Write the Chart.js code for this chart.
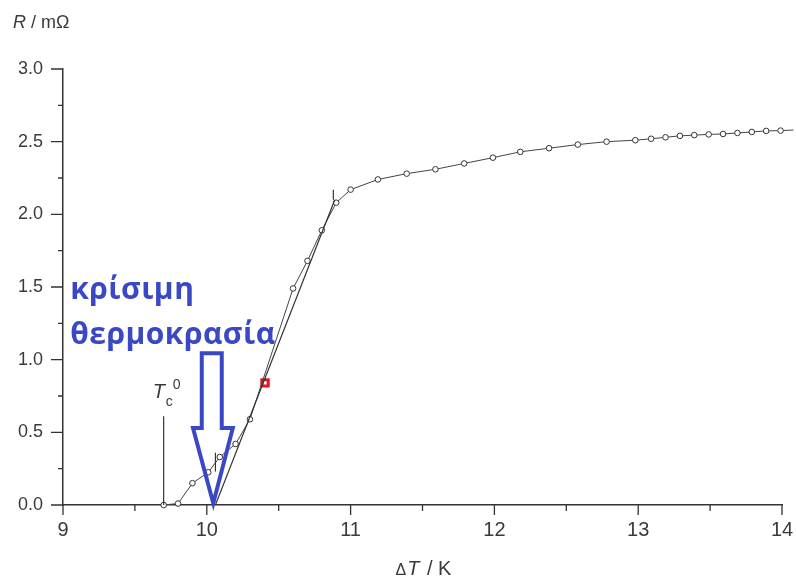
<!DOCTYPE html>
<html lang="el">
<head>
  <meta charset="UTF-8">
  <title>R / mΩ vs ΔT / K</title>
  <style>
    body {
      margin: 0;
      background: #fff;
    }
    .chart-box {
      width: 796px;
      height: 578px;
    }
  </style>
</head>
<body>
  <div class="chart-box">
    <canvas id="resChart" width="796" height="578"></canvas>
  </div>

  <script src="https://cdn.jsdelivr.net/npm/chart.js"></script>
  <script>
    // measured points: ΔT in K, R in mΩ
    const tempK = [9.70, 9.80, 9.90, 10.01, 10.09, 10.20, 10.30, 10.60, 10.70, 10.80, 10.90,
      11.00, 11.19, 11.39, 11.59, 11.79, 11.99, 12.18, 12.38, 12.58, 12.78, 12.98,
      13.09, 13.19, 13.29, 13.39, 13.49, 13.59, 13.69, 13.79, 13.89, 13.99, 14.08];
    const resistance = [0.00, 0.01, 0.15, 0.225, 0.33, 0.42, 0.59, 1.49, 1.68, 1.89, 2.08,
      2.17, 2.24, 2.28, 2.31, 2.35, 2.39, 2.43, 2.455, 2.48, 2.50, 2.51,
      2.52, 2.53, 2.54, 2.545, 2.55, 2.553, 2.56, 2.567, 2.574, 2.576, 2.58];

    // straight line drawn through the transition
    const fitTempK = [10.06, 10.89];
    const fitRes = [0.0, 2.10];

    // Tc0 marker
    const tcTempK = [9.70, 9.70];
    const tcRes = [0.0, 0.61];

    // small vertical marks at both ends of the transition
    const lowMarkTempK = [10.06, 10.06];
    const lowMarkRes = [0.23, 0.36];
    const highMarkTempK = [10.88, 10.88];
    const highMarkRes = [2.10, 2.17];

    // red highlighted point
    const redTempK = [10.405];
    const redRes = [0.84];

    // axis ticks
    const xTicks = [9, 10, 11, 12, 13, 14];
    const xMinorTicks = [9.5, 10.5, 11.5, 12.5, 13.5];
    const yTicks = [0, 0.5, 1.0, 1.5, 2.0, 2.5, 3.0];
    const yMinorTicks = [0.25, 0.75, 1.25, 1.75, 2.25, 2.75];

    // annotation text
    const noteLines = ['κρίσιμη', 'θερμοκρασία'];

    const INK = '#333';
    const LABEL = '#3a3a3a';
    const BLUE = '#3b48c6';
    const FONT = "'Liberation Sans', Arial, sans-serif";

    function toXY(xs, ys) {
      return xs.map((x, i) => ({ x: x, y: ys[i] }));
    }

    // hand-drawn tick marks (major + minor), outward like the original
    const tickMarks = {
      id: 'tickMarks',
      afterDraw(chart) {
        const c = chart.ctx, xs = chart.scales.x, ys = chart.scales.y;
        c.save();
        c.strokeStyle = INK;
        c.lineWidth = 1.3;
        c.beginPath();
        xTicks.forEach(v => { const p = xs.getPixelForValue(v); c.moveTo(p, ys.bottom); c.lineTo(p, ys.bottom + 10); });
        xMinorTicks.forEach(v => { const p = xs.getPixelForValue(v); c.moveTo(p, ys.bottom); c.lineTo(p, ys.bottom + 6); });
        yTicks.forEach(v => { const p = ys.getPixelForValue(v); c.moveTo(xs.left, p); c.lineTo(xs.left - 12, p); });
        yMinorTicks.forEach(v => { const p = ys.getPixelForValue(v); c.moveTo(xs.left, p); c.lineTo(xs.left - 5, p); });
        c.stroke();
        c.restore();
      }
    };

    // axis titles with mixed italic / regular pieces
    function drawPieces(c, pieces, x, y) {
      pieces.forEach(p => {
        c.font = p.font;
        c.fillText(p.text, x + (p.dx || 0), y + (p.dy || 0));
        x += c.measureText(p.text).width + (p.dx || 0);
      });
    }
    function piecesWidth(c, pieces) {
      let w = 0;
      pieces.forEach(p => { c.font = p.font; w += c.measureText(p.text).width + (p.dx || 0); });
      return w;
    }

    const axisTitles = {
      id: 'axisTitles',
      afterDraw(chart) {
        const c = chart.ctx, area = chart.chartArea;
        c.save();
        c.fillStyle = LABEL;
        c.textBaseline = 'alphabetic';
        c.textAlign = 'left';

        const yTitle = [
          { text: 'R', font: 'italic 18px ' + FONT },
          { text: ' / mΩ', font: '18px ' + FONT }
        ];
        drawPieces(c, yTitle, 13, 28);

        const xTitle = [
          { text: 'Δ', font: '16px ' + FONT },
          { text: 'T', font: 'italic 20px ' + FONT, dx: 1 },
          { text: ' / K', font: '20px ' + FONT, dx: 2 }
        ];
        const w = piecesWidth(c, xTitle);
        drawPieces(c, xTitle, (area.left + area.right) / 2 - w / 2 + 1, 575);

        // Tc0 label next to its marker line
        const tx = chart.scales.x.getPixelForValue(tcTempK[0]);
        const ty = chart.scales.y.getPixelForValue(tcRes[1]);
        c.font = 'italic 20px ' + FONT;
        c.fillText('T', tx - 11, ty - 18);
        c.font = '14px ' + FONT;
        c.fillText('c', tx + 2, ty - 10);
        c.fillText('0', tx + 9, ty - 27);
        c.restore();
      }
    };

    // blue hollow arrow and Greek note, positioned in data units
    const arrowShape = { top: 1.044, neck: 0.53, tip: 0.012, shaftL: 9.965, shaftR: 10.104, headL: 9.904, headR: 10.181, tipX: 10.045 };
    const noteAnchor = { x: 9.05, y1: 1.42, y2: 1.11 };

    const annotation = {
      id: 'annotation',
      afterDatasetsDraw(chart) {
        const c = chart.ctx, xs = chart.scales.x, ys = chart.scales.y;
        const X = v => xs.getPixelForValue(v), Y = v => ys.getPixelForValue(v);
        const a = arrowShape;
        c.save();
        c.strokeStyle = BLUE;
        c.lineWidth = 4;
        c.lineJoin = 'miter';
        c.beginPath();
        c.moveTo(X(a.shaftL), Y(a.top));
        c.lineTo(X(a.shaftR), Y(a.top));
        c.lineTo(X(a.shaftR), Y(a.neck));
        c.lineTo(X(a.headR), Y(a.neck));
        c.lineTo(X(a.tipX), Y(a.tip));
        c.lineTo(X(a.headL), Y(a.neck));
        c.lineTo(X(a.shaftL), Y(a.neck));
        c.closePath();
        c.stroke();

        c.fillStyle = BLUE;
        c.font = "bold 30px 'Open Sans', 'Noto Sans', sans-serif";
        c.letterSpacing = '0.5px';
        c.textBaseline = 'alphabetic';
        c.fillText(noteLines[0], X(noteAnchor.x), Y(noteAnchor.y1));
        c.fillText(noteLines[1], X(noteAnchor.x), Y(noteAnchor.y2));
        c.restore();
      }
    };

    const thinLine = (data) => ({
      data: data,
      showLine: true,
      borderColor: INK,
      borderWidth: 1.2,
      pointRadius: 0,
      fill: false,
      tension: 0
    });

    new Chart(document.getElementById('resChart'), {
      type: 'scatter',
      data: {
        datasets: [
          thinLine(toXY(fitTempK, fitRes)),
          thinLine(toXY(tcTempK, tcRes)),
          thinLine(toXY(lowMarkTempK, lowMarkRes)),
          thinLine(toXY(highMarkTempK, highMarkRes)),
          {
            label: 'R',
            data: toXY(tempK, resistance),
            showLine: true,
            borderColor: '#444',
            borderWidth: 1,
            pointRadius: 2.8,
            pointBorderWidth: 1,
            pointBorderColor: '#333',
            pointBackgroundColor: '#fff',
            clip: false
          },
          {
            data: toXY(redTempK, redRes),
            pointStyle: 'rect',
            pointRadius: 4.5,
            pointBorderWidth: 3,
            pointBorderColor: '#e8141c',
            pointBackgroundColor: '#fff'
          }
        ]
      },
      options: {
        responsive: false,
        animation: false,
        layout: { padding: { top: 69, right: 14, left: 0, bottom: 0 } },
        plugins: {
          legend: { display: false },
          tooltip: { enabled: false }
        },
        scales: {
          x: {
            type: 'linear',
            min: 9,
            max: 14,
            afterBuildTicks: s => { s.ticks = xTicks.map(v => ({ value: v })); },
            afterFit: s => { s.height = 73; },
            ticks: {
              color: LABEL,
              font: { family: FONT, size: 20 },
              padding: 0,
              callback: v => String(v)
            },
            // tick marks are drawn by the plugin; tickLength only sets label offset
            grid: { display: false, drawTicks: true, tickLength: 13 },
            border: { color: INK, width: 1.5 }
          },
          y: {
            min: 0,
            max: 3,
            afterBuildTicks: s => { s.ticks = yTicks.map(v => ({ value: v })); },
            afterFit: s => { s.width = 63; },
            ticks: {
              color: LABEL,
              font: { family: FONT, size: 18 },
              padding: 0,
              callback: v => v.toFixed(1)
            },
            grid: { display: false, drawTicks: true, tickLength: 20 },
            border: { color: INK, width: 1.5 }
          }
        }
      },
      plugins: [annotation, tickMarks, axisTitles]
    });
  </script>
</body>
</html>
